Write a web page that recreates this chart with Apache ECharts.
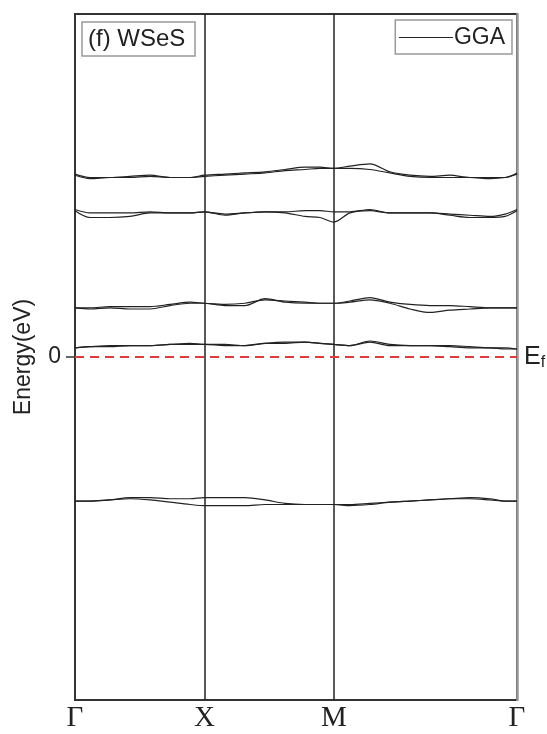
<!DOCTYPE html>
<html>
<head>
<meta charset="utf-8">
<script src="https://cdn.jsdelivr.net/npm/echarts@6/dist/echarts.min.js"></script>
<style>
  html, body { margin: 0; padding: 0; background: #fff; }
  #main { width: 547px; height: 734px; }
</style>
</head>
<body>
<div id="main"></div>
<script>
// k-path Γ-X-M-Γ (Γ-X : X-M : M-Γ = 1 : 1 : √2)
var kTicks = [0, 0.5, 1.0, 1.707];
var kLabels = ['Γ', 'X', 'M', 'Γ'];
// sampled k points along the path
var kPts = [0, 0.058, 0.135, 0.212, 0.290, 0.367, 0.444, 0.5, 0.579, 0.656, 0.734, 0.811, 0.888,
  0.946, 1.0, 1.062, 1.139, 1.216, 1.294, 1.371, 1.448, 1.525, 1.603, 1.661, 1.707];

// energies (eV), two nearly degenerate branches per band
var band1a = [1.60, 1.57, 1.57, 1.58, 1.59, 1.57, 1.57, 1.59, 1.60, 1.61, 1.62, 1.64, 1.66, 1.66, 1.65, 1.67, 1.69, 1.62, 1.59, 1.58, 1.59, 1.57, 1.57, 1.57, 1.61];
var band1b = [1.59, 1.56, 1.57, 1.57, 1.58, 1.57, 1.57, 1.58, 1.59, 1.60, 1.61, 1.63, 1.64, 1.65, 1.65, 1.65, 1.64, 1.61, 1.58, 1.57, 1.57, 1.57, 1.56, 1.57, 1.60];
var band2a = [1.29, 1.26, 1.26, 1.26, 1.27, 1.26, 1.26, 1.27, 1.25, 1.26, 1.27, 1.27, 1.28, 1.28, 1.27, 1.27, 1.29, 1.26, 1.26, 1.26, 1.25, 1.24, 1.23, 1.25, 1.29];
var band2b = [1.28, 1.22, 1.22, 1.23, 1.26, 1.26, 1.26, 1.27, 1.24, 1.26, 1.27, 1.26, 1.23, 1.22, 1.18, 1.26, 1.28, 1.26, 1.26, 1.26, 1.24, 1.22, 1.22, 1.23, 1.28];
var band3a = [0.43, 0.43, 0.44, 0.44, 0.44, 0.46, 0.48, 0.47, 0.46, 0.47, 0.50, 0.49, 0.48, 0.47, 0.47, 0.49, 0.52, 0.48, 0.46, 0.45, 0.45, 0.44, 0.43, 0.43, 0.43];
var band3b = [0.43, 0.42, 0.43, 0.42, 0.42, 0.45, 0.47, 0.47, 0.45, 0.45, 0.51, 0.48, 0.47, 0.47, 0.47, 0.48, 0.50, 0.47, 0.42, 0.39, 0.41, 0.42, 0.43, 0.43, 0.43];
var band4a = [0.08, 0.09, 0.10, 0.10, 0.10, 0.11, 0.12, 0.11, 0.11, 0.10, 0.12, 0.13, 0.13, 0.12, 0.11, 0.10, 0.14, 0.11, 0.10, 0.10, 0.10, 0.09, 0.08, 0.08, 0.07];
var band4b = [0.08, 0.09, 0.09, 0.10, 0.10, 0.11, 0.11, 0.11, 0.10, 0.10, 0.12, 0.12, 0.13, 0.12, 0.11, 0.10, 0.13, 0.10, 0.10, 0.10, 0.09, 0.08, 0.08, 0.07, 0.07];
var band5a = [-1.26, -1.26, -1.25, -1.23, -1.23, -1.24, -1.24, -1.23, -1.23, -1.23, -1.25, -1.28, -1.29, -1.29, -1.29, -1.29, -1.28, -1.27, -1.26, -1.25, -1.24, -1.23, -1.24, -1.26, -1.26];
var band5b = [-1.26, -1.26, -1.25, -1.24, -1.25, -1.27, -1.29, -1.30, -1.30, -1.30, -1.29, -1.29, -1.29, -1.29, -1.29, -1.30, -1.29, -1.27, -1.26, -1.25, -1.24, -1.24, -1.25, -1.26, -1.26];

var bands = [band1a, band1b, band2a, band2b, band3a, band3b, band4a, band4b, band5a, band5b];

var sans = 'Liberation Sans, Arial, sans-serif';
var chart = echarts.init(document.getElementById('main'));

function zipK(arr) {
  return arr.map(function (e, i) { return [kPts[i], e]; });
}

var series = bands.map(function (b) {
  return {
    name: 'GGA',
    type: 'line',
    symbol: 'none',
    smooth: 0.3,
    silent: true,
    color: '#222',
    lineStyle: { color: '#222', width: 1.2 },
    data: zipK(b)
  };
});

//高对称点竖线 和 费米能级
series[0].markLine = {
  silent: true,
  symbol: 'none',
  animation: false,
  data: [
    { xAxis: kTicks[1], lineStyle: { color: '#222', width: 1.5, type: 'solid' }, label: { show: false } },
    { xAxis: kTicks[2], lineStyle: { color: '#222', width: 1.5, type: 'solid' }, label: { show: false } },
    {
      yAxis: 0,
      lineStyle: { color: '#e03a3a', width: 2, type: [9, 6] },
      label: {
        show: true,
        position: 'end',
        distance: 7,
        formatter: 'E{sub|f}',
        color: '#222',
        fontFamily: sans,
        fontSize: 25,
        rich: { sub: { fontSize: 16, fontFamily: sans, color: '#222', verticalAlign: 'bottom', padding: [12, 0, 0, 0] } }
      }
    }
  ]
};

var option = {
  backgroundColor: '#fff',
  animation: false,
  title: {
    text: '(f) WSeS',
    left: 82,
    top: 22,
    padding: [5, 10, 5, 6],
    borderColor: '#999',
    borderWidth: 1.5,
    textStyle: { fontFamily: sans, fontSize: 24, fontWeight: 'normal', color: '#222' }
  },
  legend: {
    data: ['GGA'],
    right: 35,
    top: 20,
    padding: [6, 7, 5, 3],
    borderColor: '#999',
    borderWidth: 1.5,
    itemWidth: 54,
    itemHeight: 14,
    selectedMode: false,
    itemStyle: { opacity: 0 },
    lineStyle: { color: '#222', width: 1.2 },
    textStyle: { fontFamily: sans, fontSize: 23, color: '#222', padding: [0, 0, 0, -4] }
  },
  grid: {
    left: 75,
    right: 30,
    top: 14,
    bottom: 34,
    show: true,
    borderColor: '#333',
    borderWidth: 2
  },
  xAxis: {
    type: 'value',
    min: 0,
    max: kTicks[3],
    axisLine: { show: false },
    axisTick: { show: false },
    splitLine: { show: false },
    axisLabel: {
      customValues: kTicks,
      margin: 4,
      fontFamily: 'Liberation Serif, Times New Roman, serif',
      fontSize: 29,
      color: '#222',
      formatter: function (v) {
        var i = kTicks.indexOf(v);
        return i >= 0 ? kLabels[i] : '';
      }
    }
  },
  yAxis: [{
    type: 'value',
    min: -3,
    max: 3,
    name: 'Energy(eV)',
    nameLocation: 'middle',
    nameGap: 40,
    nameTextStyle: { fontFamily: sans, fontSize: 23, color: '#222' },
    axisLine: { show: false },
    splitLine: { show: false },
    axisTick: { customValues: [0], length: 9, lineStyle: { color: '#333', width: 1.5 } },
    axisLabel: { customValues: [0], margin: 14, fontFamily: sans, fontSize: 23, color: '#222' }
  }, {
    type: 'value',
    position: 'right',
    min: -3,
    max: 3,
    axisLine: { show: true, lineStyle: { color: '#999', width: 2.5 } },
    axisTick: { show: false },
    axisLabel: { show: false },
    splitLine: { show: false }
  }],
  series: series
};
chart.setOption(option);
</script>
</body>
</html>
